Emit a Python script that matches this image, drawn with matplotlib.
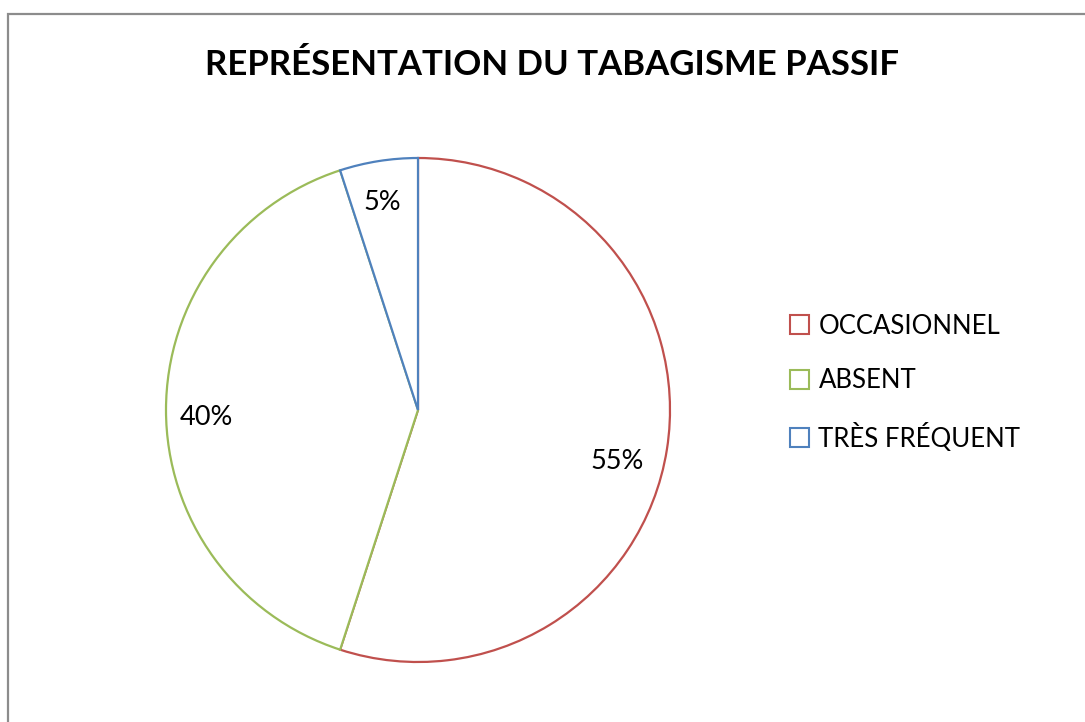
import matplotlib
matplotlib.use("Agg")
from matplotlib import pyplot as plt
from matplotlib.patches import Patch, Rectangle

# données du graphique
categories = ["OCCASIONNEL", "ABSENT", "TRÈS FRÉQUENT"]
valeurs = [55, 40, 5]
couleurs = ["#C0504D", "#9BBB59", "#4F81BD"]
titre = "REPRÉSENTATION DU TABAGISME PASSIF"

plt.rcParams["font.family"] = ["Lato", "DejaVu Sans"]

fig = plt.figure(figsize=(10.85, 7.22), dpi=100)
# un axe sur toute la figure, 1 unité = 1 pixel
ax = fig.add_axes([0, 0, 1, 1])

# cadre gris du graphique
ax.add_patch(Rectangle((8, -10), 1100, 722 - 14 + 10, fill=False,
                       edgecolor="#8c8c8c", linewidth=1.6))

wedges, texts, autotexts = ax.pie(
    valeurs, center=(418, 312), radius=252, startangle=90,
    counterclock=False, autopct="%.0f%%", pctdistance=0.8,
    wedgeprops=dict(facecolor="white", linewidth=1.6),
    textprops=dict(fontsize=19.5, color="black"), frame=True)
for w, c in zip(wedges, couleurs):
    w.set_edgecolor(c)

# petits décalages des étiquettes (placement "ajusté" façon Excel)
decalages = [(0, -20), (-10, -8), (-4, 8)]
for t, (dx, dy) in zip(autotexts, decalages):
    x, y = t.get_position()
    t.set_position((x + dx, y + dy))

ax.set_xlim(0, 1085)
ax.set_ylim(0, 722)
ax.set_aspect("auto")
ax.axis("off")

fig.text(0.509, 0.91, titre, ha="center", va="center",
         fontsize=25, fontweight="bold")

poignees = [Patch(facecolor="white", edgecolor=c, linewidth=1.5) for c in couleurs]
fig.legend(poignees, categories, loc="center left",
           bbox_to_anchor=(0.707, 0.47), frameon=False, fontsize=18.5,
           handlelength=0.75, handleheight=0.75, handletextpad=0.35,
           labelspacing=1.15)

fig.savefig("out.png", dpi=100)
